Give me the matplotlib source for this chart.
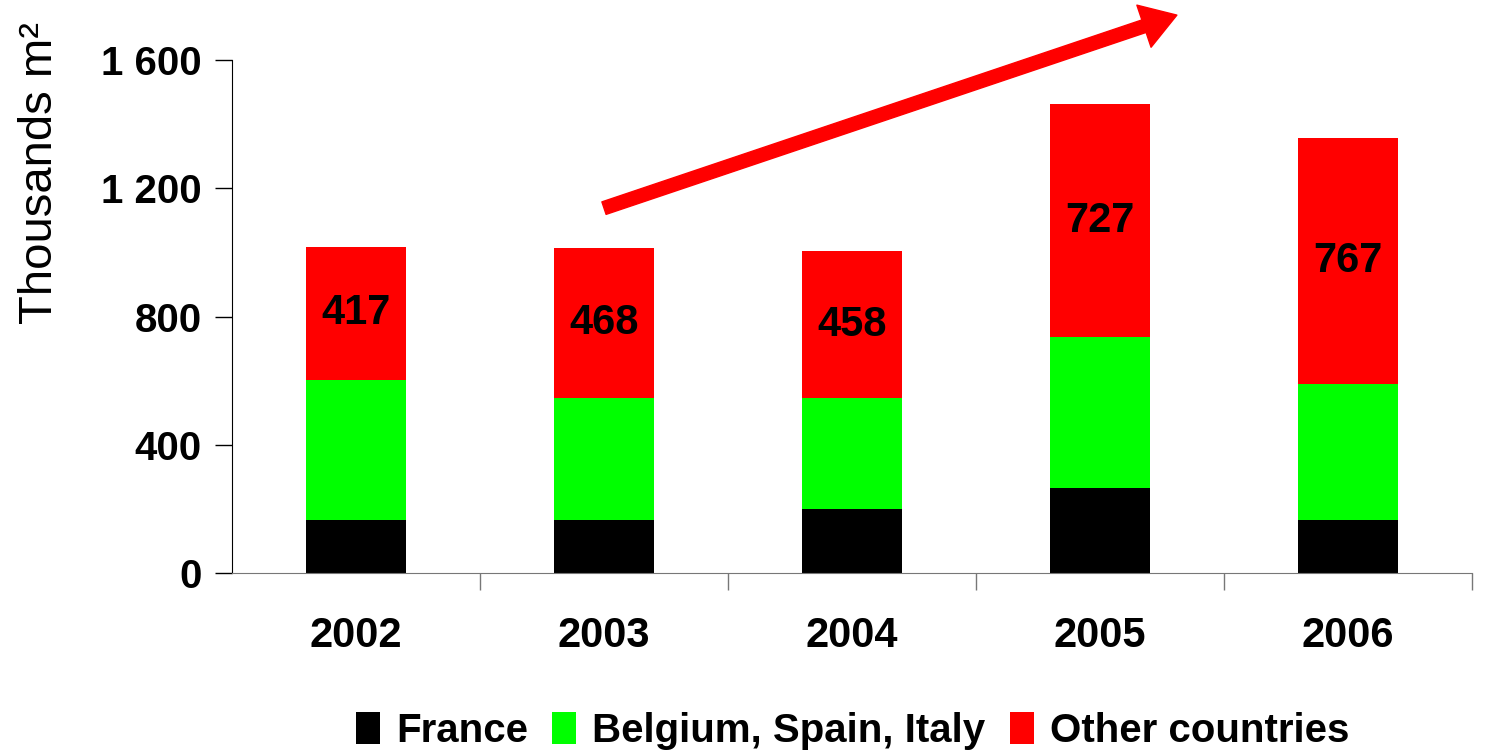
import numpy as np
import matplotlib
matplotlib.use("Agg")
import matplotlib.pyplot as plt
from matplotlib.patches import Patch, FancyArrowPatch
from matplotlib.ticker import FuncFormatter, FixedLocator

plt.rcParams['font.family'] = ['Liberation Sans', 'DejaVu Sans']

# Surface by region, thousands m2
years = ["2002", "2003", "2004", "2005", "2006"]
france = [165, 165, 200, 265, 165]
bsi = [436, 381, 346, 470, 426]
other = [417, 468, 458, 727, 767]

series_names = ["France", "Belgium, Spain, Italy", "Other countries"]
series_colors = ["#000000", "#00ff00", "#ff0000"]

x = np.arange(len(years))
france = np.array(france)
bsi = np.array(bsi)
other = np.array(other)

fig = plt.figure(figsize=(14.85, 7.56), dpi=100)
ax = fig.add_axes([232 / 1485, 1 - 573 / 756, (1472 - 232) / 1485, (573 - 60) / 756])

w = 0.40
ax.bar(x, france, w, color=series_colors[0], edgecolor="none")
ax.bar(x, bsi, w, bottom=france, color=series_colors[1], edgecolor="none")
ax.bar(x, other, w, bottom=france + bsi, color=series_colors[2], edgecolor="none")

# value labels in the "other countries" segment
for xi, b, v in zip(x, france + bsi, other):
    ax.text(xi, b + v / 2, str(v), ha="center", va="center",
            fontsize=30, fontweight="bold", color="black")

ax.set_xlim(-0.5, len(years) - 0.5)
ax.set_ylim(0, 1600)
ax.set_yticks([0, 400, 800, 1200, 1600])
ax.yaxis.set_major_formatter(FuncFormatter(lambda v, p: f"{int(v):,}".replace(",", " ")))
ax.tick_params(axis="y", length=12, width=1, pad=10, labelsize=29, colors="black")
for lab in ax.get_yticklabels():
    lab.set_fontweight("bold")

ax.set_xticks(x)
ax.set_xticklabels(years, fontsize=30, fontweight="bold")
ax.tick_params(axis="x", which="major", length=0, pad=31)
ax.xaxis.set_minor_locator(FixedLocator(np.arange(0.5, len(years), 1.0)))
ax.tick_params(axis="x", which="minor", length=12, width=1, color="#777777")

ax.spines["top"].set_visible(False)
ax.spines["right"].set_visible(False)
ax.spines["bottom"].set_color("#777777")
ax.spines["left"].set_color("black")

fig.text(40 / 1485, 1 - 173 / 756, "Thousands m²", rotation=90,
         ha="center", va="center", fontsize=34)

# growth arrow
arrow = FancyArrowPatch((1.0, 1138), (3.31, 1740),
                        arrowstyle="simple,head_length=25,head_width=32,tail_width=9.5",
                        mutation_scale=1, color="#ff0000", shrinkA=0, shrinkB=0,
                        clip_on=False)
ax.add_patch(arrow)

handles = [Patch(facecolor=c, edgecolor="none") for c in series_colors]
fig.legend(handles, series_names, loc="center", bbox_to_anchor=(0.574, 1 - 731 / 756),
           ncol=3, frameon=False, prop={"size": 29, "weight": "bold"},
           handlelength=0.6, handleheight=0.85, handletextpad=0.4, columnspacing=0.6)

fig.savefig("out.png", dpi=100)
